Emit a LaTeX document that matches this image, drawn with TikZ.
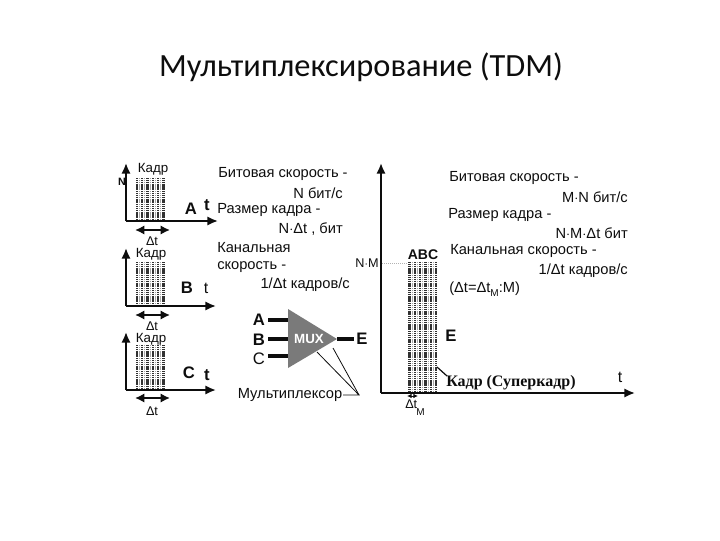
\documentclass[tikz,border=0pt]{standalone}
\usepackage{fontspec}
\setmainfont{Liberation Sans}
\newfontfamily\titlefont{Carlito}
\newfontfamily\serifbold{Liberation Serif}
\usetikzlibrary{arrows.meta}
\definecolor{ink}{gray}{0.05}
\definecolor{muxgray}{gray}{0.48}
\tikzset{
 x=0.75pt,y=-0.75pt,
 axis/.style={draw=ink,line width=1.5pt,-{Latex[length=8pt,width=7pt]}},
 dbl/.style={draw=ink,line width=1.3pt,{Latex[length=7pt,width=7pt]}-{Latex[length=7pt,width=7pt]}},
 wire/.style={draw=ink,line width=3pt},
 thin line/.style={draw=ink,line width=0.6pt},
 lab/.style={inner sep=0pt,font=\fontsize{11pt}{13pt}\selectfont,text=ink},
 small lab/.style={inner sep=0pt,font=\fontsize{9.5pt}{10pt}\selectfont,text=ink},
 big/.style={inner sep=0pt,font=\fontsize{12.5pt}{14pt}\bfseries\selectfont,text=ink},
 bar/.style={draw=ink!85,line width=1.7pt,dash pattern=on 0.9pt off 0.5pt},
 barlight/.style={draw=gray!70,line width=0.7pt,dash pattern=on 0.9pt off 0.5pt},
}
\newcommand{\frames}[4]{% x-start, step, top, bottom
 \foreach \k in {0,...,5}{
  \draw[bar] ({#1+\k*#2},#3) -- ({#1+\k*#2},#4);
  \ifnum\k<5 \draw[barlight] ({#1+\k*#2+#2/2},#3) -- ({#1+\k*#2+#2/2},#4);\fi
 }
}
\begin{document}
\begin{tikzpicture}
\useasboundingbox (0,0) rectangle (720,540);
\node[inner sep=0pt,font=\titlefont\fontsize{24.3pt}{28pt}\selectfont,text=ink] (title) at (361,67) {Мультиплексирование (TDM)};

% channel A
\coordinate (ao) at (126,221); \coordinate (ay) at (126,163); \coordinate (ax) at (218,221);
\frames{137}{5.3}{178}{221}
\draw[axis] (ao) -- (ay);
\draw[axis] (ao) -- (ax);
\coordinate (ad1) at (135,230); \coordinate (ad2) at (170,230);
\draw[dbl] (ad1) -- (ad2);
\node[small lab] (adt) at (152,241) {Δt};
\node[small lab,font=\fontsize{10pt}{11pt}\selectfont] (akadr) at (153,169) {Кадр};
\node[big,font=\fontsize{8pt}{9pt}\bfseries\selectfont] (an) at (122,182) {N};
\node[big] (aa) at (191,209) {A};
\node[big] (at) at (207,205) {t};

% channel B
\coordinate (bo) at (126,306); \coordinate (by) at (126,248); \coordinate (bx) at (216,306);
\frames{137}{5.3}{262}{306}
\draw[axis] (bo) -- (by);
\draw[axis] (bo) -- (bx);
\coordinate (bd1) at (135,315); \coordinate (bd2) at (170,315);
\draw[dbl] (bd1) -- (bd2);
\node[small lab] (bdt) at (152,326) {Δt};
\node[small lab,font=\fontsize{10pt}{11pt}\selectfont] (bkadr) at (151,254) {Кадр};
\node[big] (bb) at (187,288) {B};
\node[lab,font=\fontsize{12pt}{13pt}\selectfont] (bt) at (206,288) {t};

% channel C
\coordinate (co) at (126,390); \coordinate (cy) at (126,332); \coordinate (cx) at (216,390);
\frames{137}{5.3}{345}{390}
\draw[axis] (co) -- (cy);
\draw[axis] (co) -- (cx);
\coordinate (cd1) at (135,398); \coordinate (cd2) at (170,398);
\draw[dbl] (cd1) -- (cd2);
\node[small lab] (cdt) at (152,411) {Δt};
\node[small lab,font=\fontsize{10pt}{11pt}\selectfont] (ckadr) at (151,339) {Кадр};
\node[big] (cc) at (189,373) {C};
\node[big] (ct) at (207,375) {t};

% left text
\node[lab,anchor=west] (t1) at (218,174) {Битовая скорость -};
\node[lab,anchor=east] (t2) at (343,193) {N бит/с};
\node[lab,anchor=west] (t3) at (217,210) {Размер кадра -};
\node[lab,anchor=east] (t4) at (343,229) {N$\cdot$Δt , бит};
\node[lab,anchor=west] (t5) at (217,248) {Канальная};
\node[lab,anchor=west] (t6) at (217,267) {скорость -};
\node[lab,anchor=east] (t7) at (350,285) {1/Δt кадров/с};

% MUX
\coordinate (m1) at (288,309); \coordinate (m2) at (288,368); \coordinate (m3) at (337,339);
\fill[muxgray] (m1) -- (m3) -- (m2) -- cycle;
\node[inner sep=0pt,font=\fontsize{10pt}{11pt}\bfseries\selectfont,text=white] (mux) at (309,339) {MUX};
\node[big] (ma) at (259,320) {A};
\node[big] (mb) at (259,340) {B};
\node[big,font=\fontsize{12.5pt}{14pt}\selectfont] (mc) at (259,359) {C};
\node[big] (me) at (362,339) {E};
\coordinate (w1) at (268,320); \coordinate (w1e) at (288,320);
\coordinate (w2) at (268,339); \coordinate (w2e) at (288,339);
\coordinate (w3) at (268,356); \coordinate (w3e) at (288,356);
\coordinate (w4) at (337,339); \coordinate (w4e) at (354,339);
\draw[wire] (w1) -- (w1e);
\draw[wire] (w2) -- (w2e);
\draw[wire] (w3) -- (w3e);
\draw[wire] (w4) -- (w4e);
\node[lab] (mlab) at (290,395) {Мультиплексор};
\coordinate (l0) at (343,395); \coordinate (l1) at (359,395);
\coordinate (l2) at (317,352); \coordinate (l3) at (333,348);
\draw[thin line] (l0) -- (l1) -- (l2);
\draw[thin line] (l1) -- (l3);

% big plot
\coordinate (so) at (381,393); \coordinate (sy) at (381,163); \coordinate (sx) at (635,393);
\frames{409.5}{5.3}{262}{393}
\draw[axis] (so) -- (sy);
\draw[axis] (so) -- (sx);
\node[lab,font=\fontsize{9.5pt}{11pt}\selectfont] (nm) at (367,263) {N$\cdot$M};
\coordinate (d1) at (382,263); \coordinate (d2) at (408,263);
\draw[gray!60,line width=0.5pt,densely dotted] (d1) -- (d2);
\node[big,font=\fontsize{10.5pt}{12pt}\bfseries\selectfont] (abc) at (423,255) {ABC};
\node[big] (se) at (451,336) {E};
\coordinate (q1) at (437,367); \coordinate (q2) at (447,376);
\draw[thin line,line width=0.9pt] (q1) -- (q2);
\node[lab,anchor=west,font=\serifbold\fontsize{12pt}{13pt}\bfseries\selectfont] (skadr) at (446,383) {Кадр (Суперкадр)};
\node[lab,font=\fontsize{12pt}{13pt}\selectfont] (st) at (620,377) {t};
\coordinate (e1) at (407,396); \coordinate (e2) at (418,396);
\draw[draw=ink,line width=0.7pt,{Latex[length=3.5pt,width=3.5pt]}-{Latex[length=3.5pt,width=3.5pt]}] (e1) -- (e2);
\node[small lab,anchor=west] (sdt) at (405,404) {Δt};
\node[small lab,anchor=west,font=\fontsize{7.5pt}{8pt}\selectfont] (sm) at (416,412) {М};

% right text
\node[lab,anchor=west] (r1) at (449,178) {Битовая скорость -};
\node[lab,anchor=east] (r2) at (628,197) {M$\cdot$N бит/с};
\node[lab,anchor=west] (r3) at (448,215) {Размер кадра -};
\node[lab,anchor=east] (r4) at (628,233) {N$\cdot$M$\cdot$Δt бит};
\node[lab,anchor=west] (r5) at (450,251) {Канальная скорость -};
\node[lab,anchor=east] (r6) at (628,271) {1/Δt кадров/с};
\node[lab,anchor=west] (r7) at (449,289) {(Δt=Δt\raisebox{-3pt}{\fontsize{7.5pt}{8pt}\selectfont М}:М)};
\end{tikzpicture}
\end{document}
